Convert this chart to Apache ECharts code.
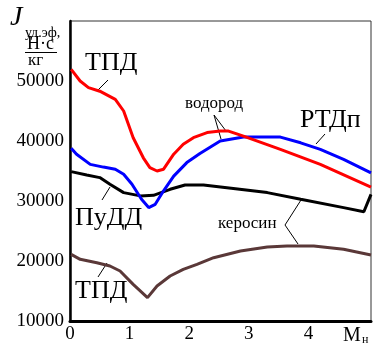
<!DOCTYPE html>
<html><head><meta charset="utf-8">
<script src="https://cdn.jsdelivr.net/npm/echarts@6/dist/echarts.min.js"></script>
<style>html,body{margin:0;padding:0;background:#fff}#c{width:374px;height:347px}</style>
</head><body><div id="c"></div>
<script>
const xTicks = [0, 1, 2, 3, 4];
const yTicks = [10000, 20000, 30000, 40000, 50000];
// ТПД (водород)
const tpdH2X = [0.02,0.17,0.31,0.5,0.76,0.9,1.06,1.23,1.34,1.46,1.57,1.74,1.9,2.07,2.3,2.52,2.66,2.91,3.53,4.2,5.05];
const tpdH2Y = [51950,50000,48900,48300,46950,45000,40550,37200,35550,35000,35300,37800,39450,40550,41400,41650,41650,40800,38600,36100,32300];
// РТДп (водород)
const rtdX = [0.02,0.11,0.34,0.56,0.76,0.9,1.04,1.2,1.32,1.43,1.57,1.74,1.96,2.18,2.52,2.91,3.53,3.87,4.2,4.59,5.05];
const rtdY = [38800,37800,36100,35650,35300,34450,32800,30280,28900,29450,31700,34150,36400,37900,40000,40650,40650,39700,38600,36950,34700];
// ПуДД
const puddX = [0.02,0.28,0.5,0.67,0.9,1.18,1.4,1.68,1.93,2.24,2.74,3.31,3.87,4.59,4.93,5.05];
const puddY = [34900,34330,33900,32780,31400,30850,30950,31950,32670,32670,32100,31400,30280,28900,28200,31100];
// ТПД (керосин)
const tpdKX = [0.02,0.17,0.45,0.67,0.84,1.06,1.3,1.46,1.68,1.9,2.13,2.41,2.86,3.31,3.64,4.09,4.59,5.05];
const tpdKY = [21100,20280,19720,19170,18330,16100,13900,15830,17500,18600,19450,20550,21670,22330,22500,22500,21950,21000];

const zip = (xs, ys) => xs.map((x, i) => [x, ys[i]]);
const serif = '"Liberation Serif","Times New Roman",serif';
const chart = echarts.init(document.getElementById('c'), null, {renderer: 'canvas'});
const lineSeries = (data, color) => ({
  type: 'line', data, showSymbol: false, symbol: 'none', smooth: false,
  lineStyle: {color, width: 3}, animation: false, clip: false
});
const txt = (x, y, text, size, extra) => ({
  type: 'text', left: x, top: y, silent: true,
  style: Object.assign({text, font: size + 'px ' + serif, fill: '#000'}, extra || {})
});
const ln = (x1, y1, x2, y2, color, w) => ({
  type: 'line', silent: true,
  shape: {x1, y1, x2, y2}, style: {stroke: color || '#000', lineWidth: w || 1}
});
chart.setOption({
  animation: false,
  grid: {left: 70, right: 3, top: 21, bottom: 26, show: true, borderColor: '#333', borderWidth: 1},
  xAxis: {
    type: 'value', min: 0, max: 5.05, interval: 1,
    axisLine: {lineStyle: {color: '#000', width: 3}},
    axisTick: {show: false}, splitLine: {show: false},
    axisLabel: {color: '#000', fontFamily: serif, fontSize: 19, margin: 4,
      formatter: v => xTicks.includes(v) ? String(v) : ''}
  },
  yAxis: {
    type: 'value', min: 10000, max: 60000, interval: 10000,
    axisLine: {show: true, lineStyle: {color: '#000', width: 2.5}},
    axisTick: {show: false}, splitLine: {show: false},
    axisLabel: {color: '#000', fontFamily: serif, fontSize: 19, margin: 6,
      formatter: v => yTicks.includes(v) ? String(v) : ''}
  },
  series: [
    lineSeries(zip(tpdKX, tpdKY), '#5a3838'),
    lineSeries(zip(puddX, puddY), '#000000'),
    lineSeries(zip(rtdX, rtdY), '#0000ff'),
    lineSeries(zip(tpdH2X, tpdH2Y), '#ff0000')
  ],
  graphic: [
    txt(10, 4, 'J', 28, {font: 'italic 28px ' + serif}),
    txt(25, 26, 'уд.эф,', 14),
    txt(27, 35, 'Н·с', 18),
    ln(25, 52.5, 57, 52.5),
    txt(28, 52, 'кг', 17),
    txt(343, 326, 'M', 20),
    txt(362, 334, 'н', 12),
    txt(85, 50, 'ТПД', 26),
    ln(98, 90, 108, 80),
    txt(185, 95, 'водород', 17),
    ln(214, 115, 221, 139),
    ln(214, 115, 226, 131),
    txt(300, 107, 'РТДп', 26),
    ln(325, 134, 316, 144),
    ln(320.5, 147, 323.5, 150, '#fff', 3),
    txt(75, 205, 'ПуДД', 26),
    ln(102, 200, 110, 187),
    txt(218, 215, 'керосин', 17),
    ln(285, 225, 301, 200),
    ln(285, 225, 298, 244),
    ln(286.5, 245.3, 289.5, 245.1, '#fff', 4),
    txt(75, 278, 'ТПД', 26),
    ln(98, 277, 107, 263)
  ]
});
</script></body></html>
